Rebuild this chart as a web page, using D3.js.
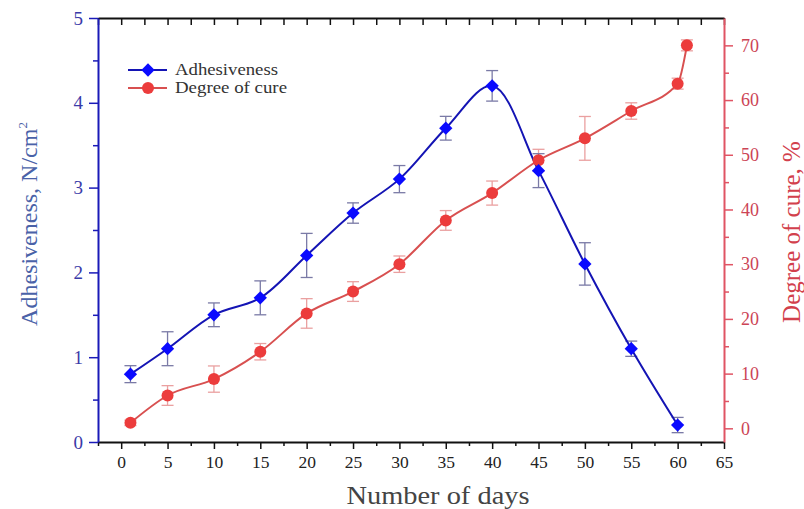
<!DOCTYPE html>
<html lang="en">
<head>
    <meta charset="UTF-8">
    <script src="https://d3js.org/d3.v7.min.js"></script>
    <title>Adhesiveness and degree of cure</title>
    <style>
        body { margin: 0; background: #fff; }
        text { font-family: "Liberation Serif", "Times New Roman", serif; }
    </style>
</head>
<body>
    <div id="chart"></div>
    <script>
        // Data
        var days = [1, 5, 10, 15, 20, 25, 30, 35, 40, 45, 50, 55, 60];
        var adhesiveness = [0.8, 1.1, 1.5, 1.7, 2.2, 2.7, 3.1, 3.7, 4.2, 3.2, 2.1, 1.1, 0.2];
        var adhesivenessErr = [0.1, 0.2, 0.14, 0.2, 0.26, 0.12, 0.16, 0.14, 0.18, 0.2, 0.25, 0.09, 0.09];

        var cureDays = [1, 5, 10, 15, 20, 25, 30, 35, 40, 45, 50, 55, 60, 61];
        var cure = [1, 6, 9, 14, 21, 25, 30, 38, 43, 49, 53, 58, 63, 70];
        var cureErr = [0.5, 1.8, 2.4, 1.5, 2.7, 1.8, 1.5, 1.8, 2.2, 2, 4, 1.5, 1, 1];

        var xTicks = [0, 5, 10, 15, 20, 25, 30, 35, 40, 45, 50, 55, 60, 65];
        var yLeftTicks = [0, 1, 2, 3, 4, 5];
        var yRightTicks = [0, 10, 20, 30, 40, 50, 60, 70];

        var width = 804, height = 509;
        // plot frame (note: "top" is a reserved window property, so prefixed names)
        var plotLeft = 98, plotRight = 724, plotTop = 18, plotBottom = 442;

        var svg = d3.select("#chart").append("svg")
            .attr("width", width)
            .attr("height", height);

        // Scales
        var x = d3.scaleLinear().domain([-2.5, 65]).range([plotLeft, plotRight]);
        var yL = d3.scaleLinear().domain([0, 5]).range([plotBottom, plotTop]);
        var yR = d3.scaleLinear().domain([-2.5, 75]).range([plotBottom, plotTop]);

        var xMinor = d3.range(-2.5, 65, 2.5).filter(function (d) { return d % 5 !== 0; });
        var yLMinor = d3.range(0.5, 5, 1);
        var yRMinor = d3.range(5, 75, 10);

        // Top frame with inward ticks
        svg.append("g")
            .attr("transform", "translate(0," + plotTop + ")")
            .call(d3.axisBottom(x).tickValues(xTicks.concat(xMinor)).tickSize(7).tickSizeOuter(0).tickFormat(""))
            .call(function (g) {
                g.select(".domain").attr("stroke", "#111").attr("stroke-width", 2);
                g.selectAll(".tick line").attr("stroke", "#111").attr("stroke-width", 1.5);
            });

        // Bottom axis
        svg.append("g")
            .attr("transform", "translate(0," + plotBottom + ")")
            .call(d3.axisBottom(x).tickValues(xMinor).tickSize(4).tickSizeOuter(0).tickFormat(""))
            .call(function (g) {
                g.select(".domain").remove();
                g.selectAll(".tick line").attr("stroke", "#111").attr("stroke-width", 1.5);
            });
        svg.append("g")
            .attr("transform", "translate(0," + plotBottom + ")")
            .call(d3.axisBottom(x).tickValues(xTicks).tickSize(7).tickSizeOuter(0).tickPadding(7))
            .call(function (g) {
                g.select(".domain").attr("stroke", "#111").attr("stroke-width", 2);
                g.selectAll(".tick line").attr("stroke", "#111").attr("stroke-width", 1.5);
                g.selectAll(".tick text").attr("fill", "#222").attr("font-size", 17.5)
                    .attr("font-family", "Liberation Serif");
            });

        // Left axis (blue)
        svg.append("g")
            .attr("transform", "translate(" + plotLeft + ",0)")
            .call(d3.axisLeft(yL).tickValues(yLMinor).tickSize(5).tickSizeOuter(0).tickFormat(""))
            .call(function (g) {
                g.select(".domain").remove();
                g.selectAll(".tick line").attr("stroke", "#1a1ab8").attr("stroke-width", 1.5);
            });
        svg.append("g")
            .attr("transform", "translate(" + plotLeft + ",0)")
            .call(d3.axisLeft(yL).tickValues(yLeftTicks).tickSize(9).tickSizeOuter(0).tickPadding(6).tickFormat(d3.format("d")))
            .call(function (g) {
                g.select(".domain").attr("stroke", "#1a1ab8").attr("stroke-width", 2);
                g.selectAll(".tick line").attr("stroke", "#1a1ab8").attr("stroke-width", 1.5);
                g.selectAll(".tick text").attr("fill", "#3a3aa8").attr("font-size", 19)
                    .attr("font-family", "Liberation Serif");
            });

        // Right axis (red)
        svg.append("g")
            .attr("transform", "translate(" + plotRight + ",0)")
            .call(d3.axisRight(yR).tickValues(yRMinor).tickSize(5).tickSizeOuter(0).tickFormat(""))
            .call(function (g) {
                g.select(".domain").remove();
                g.selectAll(".tick line").attr("stroke", "#e05464").attr("stroke-width", 1.5);
            });
        svg.append("g")
            .attr("transform", "translate(" + plotRight + ",0)")
            .call(d3.axisRight(yR).tickValues(yRightTicks).tickSize(9).tickSizeOuter(0).tickPadding(8))
            .call(function (g) {
                g.select(".domain").attr("stroke", "#e05464").attr("stroke-width", 2);
                g.selectAll(".tick line").attr("stroke", "#e05464").attr("stroke-width", 1.5);
                g.selectAll(".tick text").attr("fill", "#cc4455").attr("font-size", 18)
                    .attr("font-family", "Liberation Serif");
            });

        // Axis titles
        svg.append("text")
            .attr("transform", "translate(37,224) rotate(-90)")
            .attr("text-anchor", "middle")
            .attr("fill", "#4a62a8")
            .attr("font-size", 24)
            .html('Adhesiveness, N/cm<tspan dy="-10" font-size="13">2</tspan>');

        svg.append("text")
            .attr("transform", "translate(800,232) rotate(-90)")
            .attr("text-anchor", "middle")
            .attr("fill", "#d2404c")
            .attr("font-size", 25)
            .text("Degree of cure, %");

        svg.append("text")
            .attr("x", 438)
            .attr("y", 504)
            .attr("text-anchor", "middle")
            .attr("fill", "#444")
            .attr("font-size", 25)
            .attr("textLength", 183)
            .attr("lengthAdjust", "spacingAndGlyphs")
            .text("Number of days");

        // Series
        var blue = "#1414b4", blueMark = "#0a0aff", blueErr = "#7a7aa6";
        var red = "#d85050", redMark = "#ec3c3c", redErr = "#eaa0a0";

        var adhData = days.map(function (d, i) { return { x: d, y: adhesiveness[i], e: adhesivenessErr[i] }; });
        var cureData = cureDays.map(function (d, i) { return { x: d, y: cure[i], e: cureErr[i] }; });

        function errorBars(data, yScale, color) {
            var g = svg.append("g").attr("stroke", color).attr("stroke-width", 1.3);
            data.forEach(function (d) {
                var cx = x(d.x), y1 = yScale(d.y + d.e), y2 = yScale(d.y - d.e);
                g.append("line").attr("x1", cx).attr("x2", cx).attr("y1", y1).attr("y2", y2);
                g.append("line").attr("x1", cx - 6).attr("x2", cx + 6).attr("y1", y1).attr("y2", y1);
                g.append("line").attr("x1", cx - 6).attr("x2", cx + 6).attr("y1", y2).attr("y2", y2);
            });
        }

        errorBars(cureData, yR, redErr);
        errorBars(adhData, yL, blueErr);

        svg.append("path")
            .datum(cureData)
            .attr("fill", "none")
            .attr("stroke", red)
            .attr("stroke-width", 2)
            .attr("d", d3.line().x(function (d) { return x(d.x); }).y(function (d) { return yR(d.y); })
                .curve(d3.curveMonotoneX));

        svg.append("path")
            .datum(adhData)
            .attr("fill", "none")
            .attr("stroke", blue)
            .attr("stroke-width", 2)
            .attr("d", d3.line().x(function (d) { return x(d.x); }).y(function (d) { return yL(d.y); })
                .curve(d3.curveCatmullRom));

        var diamond = d3.symbol().type(d3.symbolSquare).size(88);

        svg.selectAll(".cure-dot")
            .data(cureData)
            .enter().append("circle")
            .attr("class", "cure-dot")
            .attr("cx", function (d) { return x(d.x); })
            .attr("cy", function (d) { return yR(d.y); })
            .attr("r", 6)
            .attr("fill", redMark);

        svg.selectAll(".adh-dot")
            .data(adhData)
            .enter().append("path")
            .attr("class", "adh-dot")
            .attr("d", diamond)
            .attr("transform", function (d) { return "translate(" + x(d.x) + "," + yL(d.y) + ") rotate(45)"; })
            .attr("fill", blueMark);

        // Legend
        var legend = svg.append("g").attr("transform", "translate(128,70)");
        legend.append("line").attr("x1", 0).attr("x2", 39).attr("y1", 0).attr("y2", 0)
            .attr("stroke", blue).attr("stroke-width", 2);
        legend.append("path").attr("d", diamond).attr("transform", "translate(20,0) rotate(45)").attr("fill", blueMark);
        legend.append("text").attr("x", 47).attr("y", 5).attr("font-size", 16)
            .attr("textLength", 103).attr("lengthAdjust", "spacingAndGlyphs")
            .attr("fill", "#333").text("Adhesiveness");

        legend.append("line").attr("x1", 0).attr("x2", 39).attr("y1", 18).attr("y2", 18)
            .attr("stroke", red).attr("stroke-width", 2);
        legend.append("circle").attr("cx", 20).attr("cy", 18).attr("r", 6).attr("fill", redMark);
        legend.append("text").attr("x", 47).attr("y", 23).attr("font-size", 16)
            .attr("textLength", 112).attr("lengthAdjust", "spacingAndGlyphs")
            .attr("fill", "#333").text("Degree of cure");
    </script>
</body>
</html>
